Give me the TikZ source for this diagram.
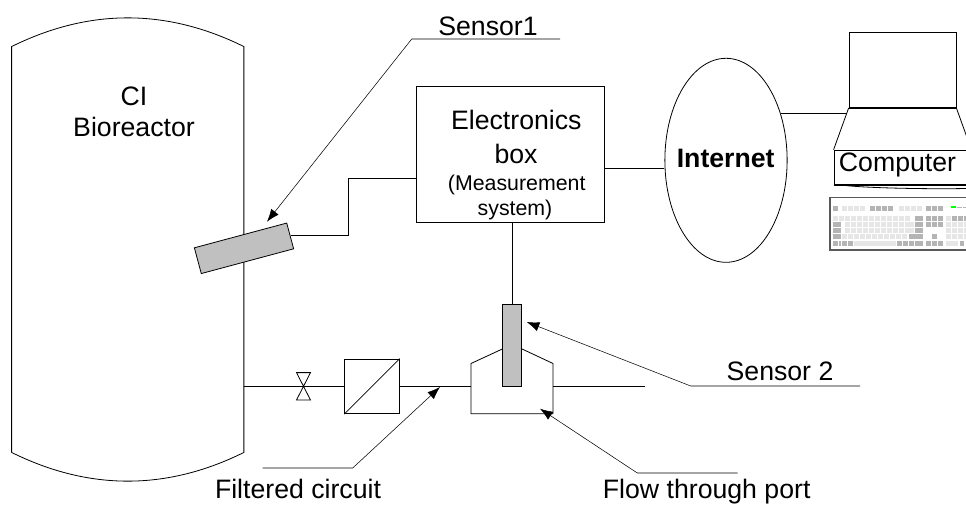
\documentclass[tikz,border=0pt]{standalone}
\usepackage{fontspec}
\setmainfont{Liberation Sans}
\usetikzlibrary{shapes.geometric, arrows.meta}

\definecolor{sensorgray}{HTML}{C0C0C0}
\definecolor{keydark}{HTML}{B4B4B4}
\definecolor{keylight}{HTML}{E6E6E6}

\newcommand{\keyrun}[4]{\foreach \kx in {#1} \fill[#4] (\kx,#2) rectangle ++(#3,15);}

\begin{document}
\begin{tikzpicture}[
    x=0.75pt, y=-0.75pt,
    line width=0.6pt,
    tag/.style={font=\fontsize{20}{23.7}\selectfont, inner sep=0pt, anchor=base},
    smalltag/.style={font=\fontsize{16}{19}\selectfont, inner sep=0pt, align=center},
    vessel/.style={minimum width=173.6pt, minimum height=303.8pt, inner sep=0pt, align=center},
    elecbox/.style={draw, rectangle, minimum width=140.6pt, minimum height=102pt},
    cloud/.style={draw, ellipse, minimum width=91.7pt, minimum height=153pt, inner sep=0pt},
    probe/.style={draw, rectangle, fill=sensorgray, inner sep=0pt},
    filterbox/.style={draw, rectangle, minimum size=41pt, inner sep=0pt},
    leader/.style={line width=0.4pt},
    tip/.style={leader, -{Latex[length=9.5pt, width=7pt]}}
]
\clip (0,0) rectangle (966,504);

% Bioreactor
\node[vessel] (tank) at (127.75,249.5) {};
\draw (tank.south west) -- (tank.north west)
    .. controls (89,8.3) and (166.5,8.3) .. (tank.north east)
    -- (tank.south east)
    .. controls (166.5,490.7) and (89,490.7) .. (tank.south west);
\node[font=\fontsize{20}{23.7}\selectfont, align=center, inner sep=0pt] (tanktext) at (134,112) {CI\\Bioreactor};

% Electronics box
\node[elecbox] (box) at (510.3,154.5) {};
\node[tag] (boxtitle) at (516.3,129) {Electronics};
\node[tag] (boxword) at (516,163) {box};
\node[smalltag, anchor=base] (boxnote1) at (516.7,190) {(Measurement};
\node[smalltag, anchor=base] (boxnote2) at (515,215) {system)};

% Internet
\node[cloud] (internet) at (726,160.3) {};
\node[tag, font=\fontsize{20}{24}\selectfont\bfseries] (nettext) at (725.7,167.7) {Internet};

% Sensors
\node[probe, rotate=15, minimum width=71.7pt, minimum height=20pt] (sensor1) at (244,248.3) {};
\node[probe, minimum width=14.25pt, minimum height=61.5pt] (sensor2) at (512.2,345.3) {};

% Valve and filter
\coordinate (valve) at (303.5,386.3);
\draw (valve) -- ++(-7,-13.7) -- ++(14,0) -- ++(-14,27.4) -- ++(14,0) -- cycle;
\node[filterbox] (filter) at (372,386.3) {};
\draw (filter.south west) -- (filter.north east);

% Flow through port
\node[minimum width=61pt, minimum height=37pt, inner sep=0pt] (port) at (512,388.6) {};
\coordinate (portleft) at (sensor2.west |- 0,349);
\coordinate (portright) at (sensor2.east |- 0,349);
\draw (portleft) -- (port.north west) -- (port.south west) -- (port.south east) -- (port.north east) -- (portright);

% Pipe line
\coordinate (stub) at (645,386.3);
\draw (filter.west -| tank.east) -- (valve) -- (filter.west);
\draw (filter.east) -- (filter.east -| port.west);
\draw (filter.east -| port.east) -- (stub);

% Wires
\coordinate (wirebend) at (348,178);
\coordinate (netlink) at (604,168);
\coordinate (netout) at (780.6,113.7);
\coordinate (monitorfoot) at (846.7,113.7);
\draw (sensor1.east) -| (wirebend) -- (wirebend -| box.west);
\draw (netlink) -- (netlink -| internet.west);
\draw (box.south -| sensor2) -- (sensor2.north);
\draw (netout) -- (monitorfoot);

% Computer
\node[draw, rectangle, minimum width=80.25pt, minimum height=56.5pt, inner sep=0pt] (monitor) at (902.5,70) {};
\node[draw, rectangle, minimum width=102.75pt, minimum height=25.9pt, inner sep=0pt] (base) at (902.5,167.3) {};
\draw (monitor.south west) -- (base.north west);
\draw (monitor.south east) -- (base.north east);
\draw[line width=1.1pt] (monitor.south west) -- (monitor.south east);
\draw[line width=1.1pt] (base.south west) -- (base.south east);
\draw (base.south west) ++(8,0) .. controls ++(30,5) and ++(85,5) .. ++(115,0);
\node[tag] (computer) at (897.5,171.7) {Computer};

% Keyboard
\node[draw=black!65, line width=0.9pt, rectangle, minimum width=110pt, minimum height=39.5pt, inner sep=0pt] (keyboard) at (903.3,223.6) {};
\begin{scope}[shift={(825,190)}, x=0.25pt, y=-0.25pt]
    % top row
    \keyrun{24,304,322,340,136,154,172,190}{48}{14}{keydark}
    \keyrun{52,70,88,106,222,240,258,276}{48}{14}{keylight}
    \fill[green] (378,48) rectangle ++(16,5);
    \fill[keydark] (396,50) rectangle ++(14,3);
    \fill[keydark] (414,50) rectangle ++(14,3);
    % typing rows
    \keyrun{24,42,60,78,96,114,132,150,168,186,204,222,240}{78}{14}{keylight}
    \keyrun{270}{78}{24}{keydark}
    \keyrun{304,322,340,382,400,418}{78}{14}{keydark}
    \keyrun{364}{78}{14}{keylight}
    \keyrun{60,78,96,114,132,150,168,186,204,222,240,252}{96}{14}{keylight}
    \keyrun{24}{96}{24}{keydark}
    \keyrun{270}{96}{24}{keydark}
    \keyrun{304,322,340}{96}{14}{keydark}
    \keyrun{364,382,400,418}{96}{14}{keylight}
    \keyrun{60,78,96,114,132,150,168,186,204,222,240,252}{114}{14}{keylight}
    \keyrun{24}{114}{24}{keydark}
    \keyrun{270}{114}{24}{keydark}
    \keyrun{364,382,400,418}{114}{14}{keylight}
    \keyrun{52,70,88,106,124,142,160,178,196,214,232}{132}{14}{keylight}
    \keyrun{24}{132}{24}{keydark}
    \keyrun{252}{132}{42}{keydark}
    \keyrun{322}{132}{14}{keydark}
    \keyrun{364,382,400,418}{132}{14}{keylight}
    % bottom row
    \keyrun{24,52,70,216,234,252,304,322,340}{152}{14}{keydark}
    \keyrun{42}{152}{6}{keydark}
    \keyrun{270}{152}{24}{keydark}
    \keyrun{88}{152}{124}{keylight}
    \keyrun{364}{152}{36}{keylight}
    \keyrun{404,422}{152}{14}{keydark}
\end{scope}

% Callouts
\coordinate (s1tail) at (560,39);
\coordinate (s1knee) at (411.7,39);
\coordinate (s1tip) at (267,221.7);
\draw[tip] (s1tail) -- (s1knee) -- (s1tip);
\node[tag] (s1text) at (488,35) {Sensor1};

\coordinate (s2tail) at (860,386);
\coordinate (s2knee) at (690.7,386);
\coordinate (s2tip) at (526.7,322);
\draw[tip] (s2tail) -- (s2knee) -- (s2tip);
\node[tag] (s2text) at (780,380.7) {Sensor 2};

\coordinate (fctail) at (262.7,468);
\coordinate (fcknee) at (352.7,468);
\coordinate (fctip) at (440,387);
\draw[tip] (fctail) -- (fcknee) -- (fctip);
\node[tag] (fctext) at (298,498.3) {Filtered circuit};

\coordinate (fptail) at (737.7,473);
\coordinate (fpknee) at (637.3,473);
\coordinate (fptip) at (540,408.7);
\draw[tip] (fptail) -- (fpknee) -- (fptip);
\node[tag] (fptext) at (706.7,498.3) {Flow through port};

\end{tikzpicture}
\end{document}
